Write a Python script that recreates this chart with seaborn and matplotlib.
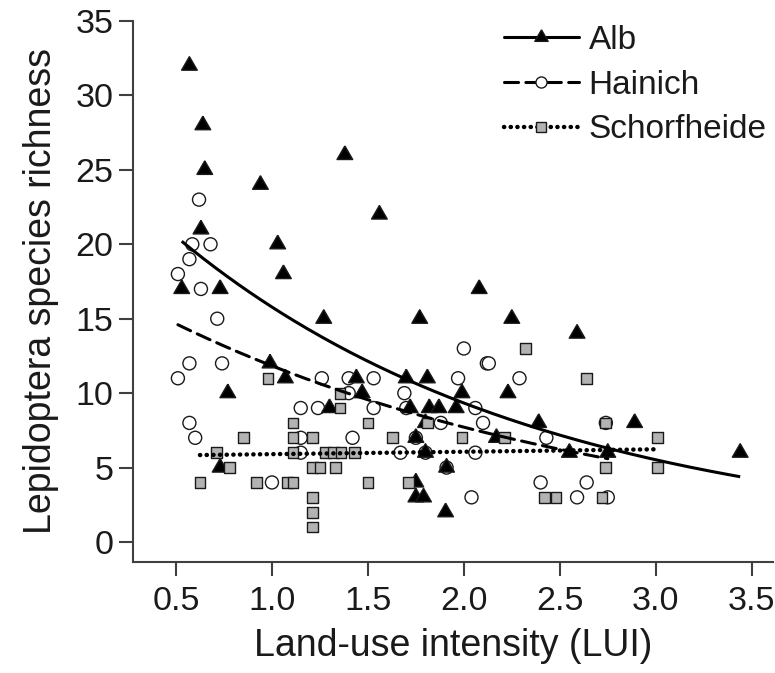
import numpy as np
import pandas as pd
import matplotlib
matplotlib.use("Agg")
import matplotlib.pyplot as plt
import seaborn as sns
from matplotlib.lines import Line2D

# ---------------- data ----------------
regions = ["Alb", "Hainich", "Schorfheide"]

alb_lui = [0.57, 0.64, 0.65, 1.38, 0.94, 0.63, 1.03, 1.06, 0.53, 0.73,
           1.27, 0.99, 1.07, 0.77, 1.30, 0.73, 1.56, 2.08, 1.77, 2.25,
           1.44, 1.70, 1.81, 1.47, 1.99, 2.23, 1.72, 1.82, 1.87, 1.96,
           1.80, 2.39, 1.75, 2.17, 1.80, 1.75, 1.91, 1.75, 1.79, 1.905,
           2.59, 2.89, 2.55, 2.75, 3.44]
alb_rich = [32, 28, 25, 26, 24, 21, 20, 18, 17, 17,
            15, 12, 11, 10, 9, 5, 22, 17, 15, 15,
            11, 11, 11, 10, 10, 10, 9, 9, 9, 9,
            8, 8, 7, 7, 6, 4, 5, 3, 3, 2,
            14, 8, 6, 6, 6]

hai_lui = [0.62, 0.585, 0.68, 0.57, 0.51, 0.63, 0.715, 0.57, 0.74, 0.51,
           1.26, 1.40, 1.15, 1.24, 0.57, 0.60, 1.15, 1.15, 1.00, 2.00,
           2.12, 2.13, 1.53, 1.97, 2.29, 1.40, 1.69, 1.53, 1.70, 2.06,
           1.88, 2.10, 1.42, 1.75, 2.43, 1.67, 1.80, 2.06, 1.91, 2.04,
           2.40, 2.74, 2.64, 2.59, 2.75]
hai_rich = [23, 20, 20, 19, 18, 17, 15, 12, 12, 11,
            11, 11, 9, 9, 8, 7, 7, 6, 4, 13,
            12, 12, 11, 11, 11, 10, 10, 9, 9, 9,
            8, 8, 7, 7, 7, 6, 6, 6, 5, 3,
            4, 8, 4, 3, 3]

sch_lui = [0.98, 1.355, 1.355, 1.11, 0.85, 1.11, 1.21, 0.71, 1.11, 1.28,
           1.32, 1.36, 0.78, 1.21, 1.25, 1.33, 0.625, 0.92, 1.08, 1.11,
           1.21, 1.21, 1.21, 2.32, 1.50, 1.81, 1.63, 1.99, 2.21, 1.43,
           1.50, 1.71, 2.42, 2.48, 2.64, 2.74, 3.01, 2.74, 3.01, 2.72]
sch_rich = [11, 10, 9, 8, 7, 7, 7, 6, 6, 6,
            6, 6, 5, 5, 5, 5, 4, 4, 4, 4,
            3, 2, 1, 13, 8, 8, 7, 7, 7, 6,
            4, 4, 3, 3, 11, 8, 7, 5, 5, 3]

# fitted log-linear (Poisson-type) curves: log(y) = a + b * LUI
fit_log_intercept = [3.284, 2.899, 1.748]
fit_slope = [-0.525, -0.428, 0.027]

x_ticks = [0.5, 1.0, 1.5, 2.0, 2.5, 3.0, 3.5]
y_ticks = [0, 5, 10, 15, 20, 25, 30, 35]

# ---------------- styling ----------------
sns.set_theme(style="ticks")
plt.rcParams["font.family"] = ["Liberation Sans", "DejaVu Sans"]

ink = "#1a1a1a"
face = {"Alb": "black", "Hainich": "white", "Schorfheide": "#b3b3b3"}
tri = [(0, 1), (0.866, -0.5), (-0.866, -0.5), (0, 1)]
markers = {"Alb": tri, "Hainich": "o", "Schorfheide": "s"}
msize = {"Alb": 170, "Hainich": 88, "Schorfheide": 60}
lstyle = {"Alb": "-", "Hainich": (0, (4.6, 2.4)), "Schorfheide": (0, (0.05, 1.45))}
lwidth = {"Alb": 2.2, "Hainich": 2.2, "Schorfheide": 3.2}

df = pd.concat([
    pd.DataFrame({"region": "Hainich", "lui": hai_lui, "rich": hai_rich}),
    pd.DataFrame({"region": "Alb", "lui": alb_lui, "rich": alb_rich}),
    pd.DataFrame({"region": "Schorfheide", "lui": sch_lui, "rich": sch_rich}),
], ignore_index=True)

fig = plt.figure(figsize=(7.75, 6.73), dpi=100)
ax = fig.add_axes([133 / 775, 111 / 673, 640 / 775, 541 / 673])

sns.scatterplot(data=df, x="lui", y="rich", hue="region", style="region",
                size="region", palette=face, markers=markers, sizes=msize,
                edgecolor=ink, linewidth=1.0, legend=False, ax=ax, zorder=2)

for i, r in enumerate(regions):
    sub = df[df.region == r]
    xs = np.linspace(sub.lui.min(), sub.lui.max(), 200)
    ys = np.exp(fit_log_intercept[i] + fit_slope[i] * xs)
    ax.plot(xs, ys, color="black", lw=lwidth[r], linestyle=lstyle[r],
            dash_capstyle="round", solid_capstyle="butt", zorder=3)

ax.set_xlim(0.276, 3.611)
ax.set_ylim(-1.344, 35.0)
ax.set_xticks(x_ticks)
ax.set_xticklabels([f"{t:.1f}" for t in x_ticks])
ax.set_yticks(y_ticks)
ax.set_yticklabels([str(t) for t in y_ticks])
for s in ["top", "right"]:
    ax.spines[s].set_visible(False)
for s in ["left", "bottom"]:
    ax.spines[s].set_linewidth(1.5)
    ax.spines[s].set_color("#404040")
ax.tick_params(axis="both", length=10, width=1.5, color="#404040",
               labelsize=24.5, labelcolor=ink)
ax.tick_params(axis="x", pad=7)
ax.tick_params(axis="y", pad=4)
ax.set_xlabel("Land-use intensity (LUI)", fontsize=27, color=ink, labelpad=8)
ax.set_ylabel("Lepidoptera species richness", fontsize=27, color=ink, labelpad=12)

handles = []
for r in regions:
    handles.append(Line2D([], [], color="black", lw=lwidth[r], linestyle=lstyle[r],
                          dash_capstyle="round",
                          marker=markers[r], markersize=np.sqrt(msize[r]) * 0.85,
                          markerfacecolor=face[r], markeredgecolor=ink,
                          markeredgewidth=1.0))
leg = ax.legend(handles, regions, loc="upper right", frameon=False,
                fontsize=24, handlelength=2.25, handletextpad=0.3,
                labelspacing=0.41, borderaxespad=0.0,
                bbox_to_anchor=(1.011, 1.017))
for t in leg.get_texts():
    t.set_color(ink)

fig.savefig("out.png", dpi=100)
